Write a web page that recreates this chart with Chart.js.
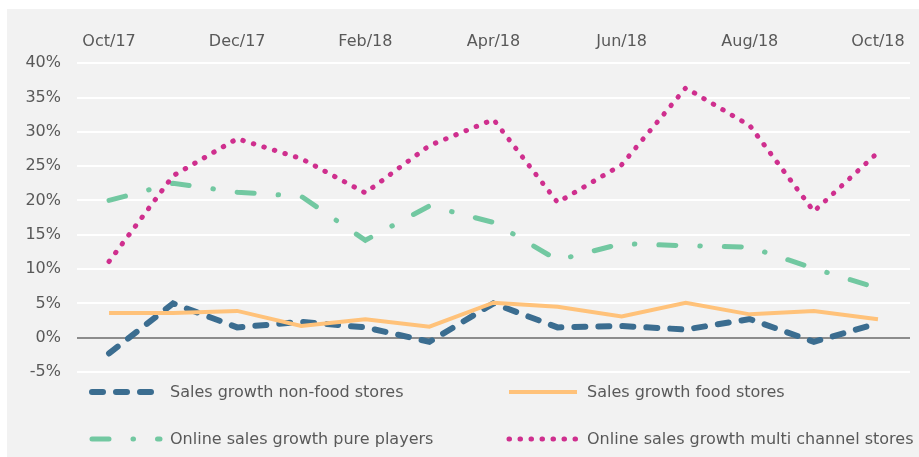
<!DOCTYPE html>
<html>
<head>
<meta charset="utf-8">
<script src="https://cdn.jsdelivr.net/npm/chart.js@4/dist/chart.umd.min.js"></script>
<style>
  html, body { margin: 0; padding: 0; background: #ffffff; }
  #panel { position: absolute; left: 7px; top: 9px; width: 912px; height: 448px; background: #f2f2f2; }
</style>
</head>
<body>
<div id="panel"><canvas id="growth_chart" width="912" height="448"></canvas></div>
<script>
const months = ['Oct/17', 'Nov/17', 'Dec/17', 'Jan/18', 'Feb/18', 'Mar/18', 'Apr/18',
                'May/18', 'Jun/18', 'Jul/18', 'Aug/18', 'Sep/18', 'Oct/18'];
const nonFood = [-2.3, 5.0, 1.5, 2.3, 1.5, -0.6, 5.0, 1.5, 1.7, 1.2, 2.7, -0.6, 2.1];
const food = [3.6, 3.6, 3.9, 1.7, 2.7, 1.6, 5.1, 4.5, 3.1, 5.1, 3.4, 3.9, 2.7];
const purePlayers = [20.0, 22.5, 21.2, 20.6, 14.2, 19.2, 16.8, 11.3, 13.7, 13.4, 13.2, 10.1, 7.2];
const multiChannel = [11.1, 23.6, 29.0, 26.1, 21.1, 28.0, 31.8, 19.7, 25.2, 36.4, 30.9, 18.4, 27.0];

const textColor = '#595959';
const fontFamily = '"DejaVu Sans", Verdana, sans-serif';

// legend drawn in two columns like the original
const gridLegend = {
    id: 'gridLegend',
    afterDraw(chart) {
        const ctx = chart.ctx;
        const cols = [{ x: 85, w: 68 }, { x: 502, w: 68 }];
        const rows = [383, 430];
        chart.data.datasets.forEach((ds, i) => {
            const col = cols[i % 2];
            const y = rows[Math.floor(i / 2)];
            ctx.save();
            ctx.strokeStyle = ds.borderColor;
            ctx.lineWidth = ds.borderWidth;
            ctx.lineCap = ds.borderCapStyle || 'butt';
            ctx.setLineDash(ds.borderDash || []);
            ctx.beginPath();
            ctx.moveTo(col.x, y);
            ctx.lineTo(col.x + col.w, y);
            ctx.stroke();
            ctx.restore();
            ctx.save();
            ctx.fillStyle = textColor;
            ctx.font = '16px ' + fontFamily;
            ctx.textBaseline = 'middle';
            ctx.fillText(ds.label, col.x + col.w + 10, y + 1);
            ctx.restore();
        });
    }
};

const ctx = document.getElementById('growth_chart').getContext('2d');

new Chart(ctx, {
    type: 'line',
    data: {
        labels: months,
        datasets: [
            {
                label: 'Sales growth non-food stores',
                data: nonFood,
                borderColor: '#3b6d90',
                borderWidth: 6,
                borderDash: [11, 13],
                borderCapStyle: 'round',
                order: 3
            },
            {
                label: 'Sales growth food stores',
                data: food,
                borderColor: '#ffc27a',
                borderWidth: 4,
                order: 2
            },
            {
                label: 'Online sales growth pure players',
                data: purePlayers,
                borderColor: '#72c8a1',
                borderWidth: 5,
                borderDash: [17, 24, 0.5, 24],
                borderCapStyle: 'round',
                order: 1
            },
            {
                label: 'Online sales growth multi channel stores',
                data: multiChannel,
                borderColor: '#cf2f8e',
                borderWidth: 5,
                borderDash: [0.5, 10.5],
                borderCapStyle: 'round',
                order: 0
            }
        ]
    },
    options: {
        responsive: false,
        animation: false,
        layout: {
            padding: { left: 19, right: 9, top: 19, bottom: 85 }
        },
        elements: {
            point: { radius: 0 },
            line: { tension: 0, fill: false }
        },
        scales: {
            x: {
                position: 'top',
                offset: true,
                grid: { display: false },
                border: { display: false },
                afterFit: (scale) => {
                    scale.paddingLeft = 0;
                    scale.paddingRight = 0;
                },
                ticks: {
                    autoSkip: false,
                    maxRotation: 0,
                    padding: 4,
                    color: textColor,
                    font: { family: fontFamily, size: 16 },
                    callback: function (value, index) {
                        return index % 2 === 0 ? months[index] : '';
                    }
                }
            },
            y: {
                min: -5,
                max: 40,
                border: { display: false },
                afterFit: (scale) => {
                    scale.width = 51;
                },
                grid: {
                    drawTicks: false,
                    lineWidth: 2,
                    color: (c) => c.tick && c.tick.value === 0 ? '#8c8c8c' : '#ffffff'
                },
                ticks: {
                    stepSize: 5,
                    padding: 16,
                    color: textColor,
                    font: { family: fontFamily, size: 16 },
                    callback: (v) => v + '%'
                }
            }
        },
        plugins: {
            legend: { display: false },
            tooltip: { enabled: false }
        }
    },
    plugins: [gridLegend]
});
</script>
</body>
</html>
